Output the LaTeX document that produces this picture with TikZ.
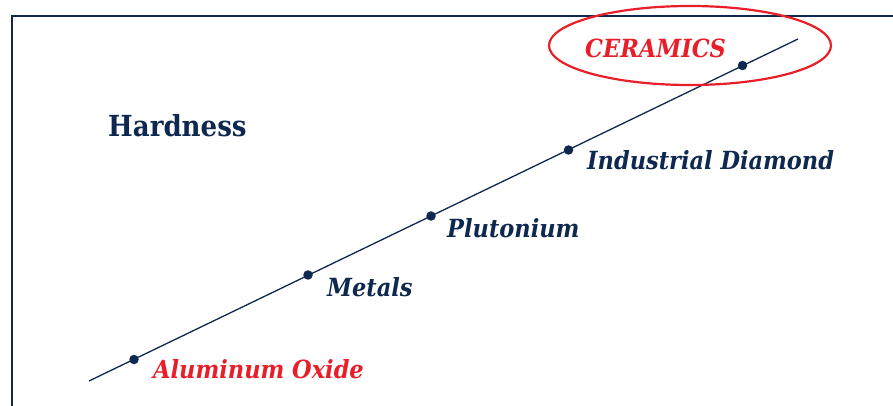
\documentclass[tikz,border=0pt]{standalone}
\usepackage{fontspec}
\newfontfamily\slab{DejaVu Serif Condensed}
\definecolor{navy}{RGB}{14,40,80}
\definecolor{hred}{RGB}{232,30,40}
\begin{document}
\begin{tikzpicture}[x=1pt,y=-1pt,
  lbl/.style={anchor=base west,inner sep=0pt,font=\slab\fontsize{25}{29}\selectfont\bfseries\itshape},
  dot/.style={circle,fill=navy,inner sep=0pt,minimum size=9.5pt}]
\useasboundingbox (0,0) rectangle (893,406);
% frame
\draw[navy,line width=2.6pt] (12,410) -- (12,16) -- (900,16);
% axis line
\coordinate (s) at (89,381);
\coordinate (e) at (798,39);
\draw[navy,line width=1.3pt] (s) -- (e);
\node[dot] (d1) at (134,359.5) {};
\node[dot] (d2) at (308,275) {};
\node[dot] (d3) at (431,216) {};
\node[dot] (d4) at (568.5,150) {};
\node[dot] (d5) at (742.5,65.5) {};
% labels
\node[lbl,text=hred] (ao) at (153,378) {Aluminum Oxide};
\node[lbl,text=navy] (me) at (327,296) {Metals};
\node[lbl,text=navy] (pl) at (447,237) {Plutonium};
\node[lbl,text=navy] (id) at (587,170) {Industrial Diamond};
\node[lbl,text=hred] (ce) at (585,58) {CERAMICS};
\node[anchor=base west,inner sep=0pt,text=navy,font=\slab\fontsize{29}{34}\selectfont\bfseries] (hd) at (108,137) {Hardness};
% ellipse
\draw[hred,line width=2.2pt] (690,45.5) ellipse [x radius=141,y radius=39.5];
\end{tikzpicture}
\end{document}
